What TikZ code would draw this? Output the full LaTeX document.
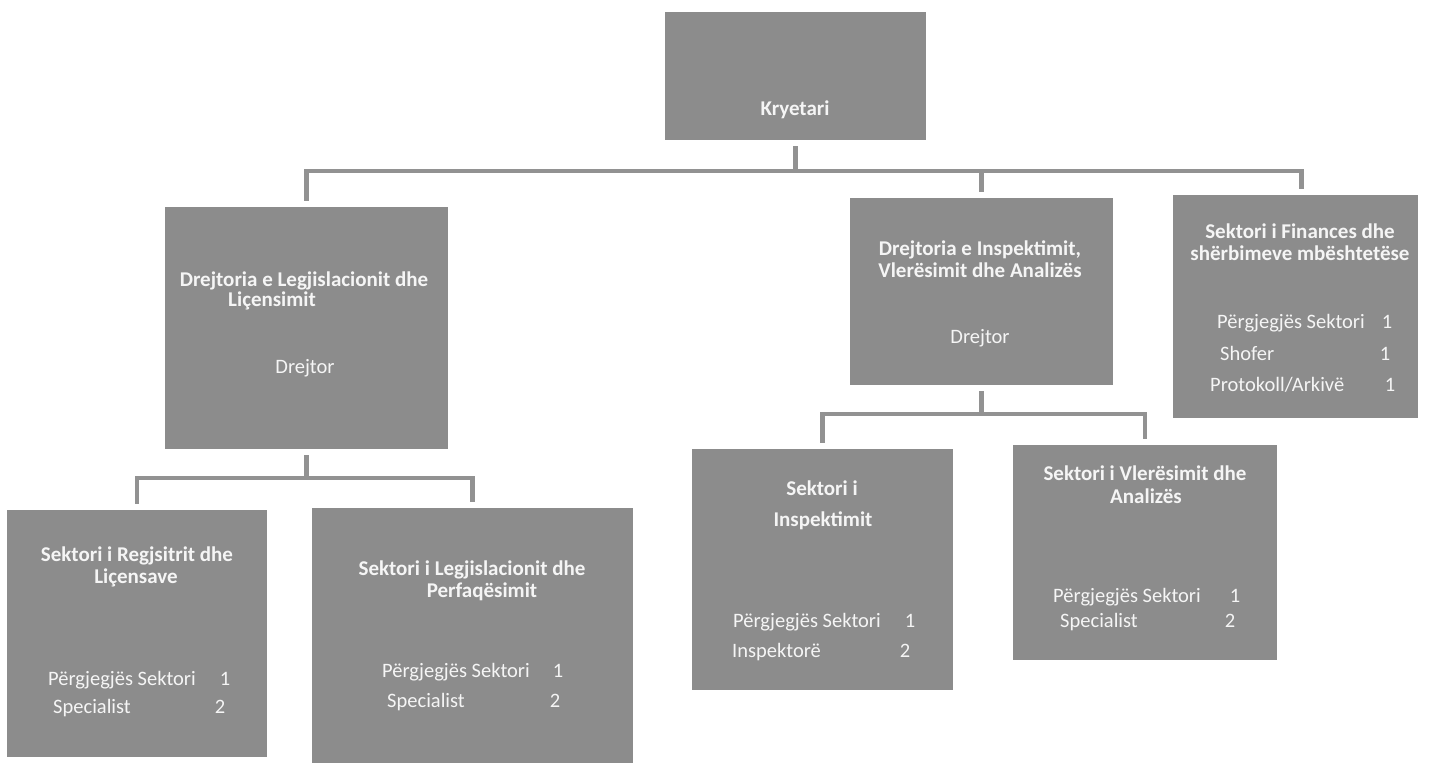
\documentclass[tikz,border=0pt]{standalone}
\usepackage{fontspec}
\setmainfont{Carlito}
\definecolor{boxgray}{HTML}{8C8C8C}
\definecolor{linegray}{HTML}{929292}
\definecolor{txtwhite}{HTML}{F5F5F5}
\begin{document}
\begin{tikzpicture}[x=1pt,y=-1pt,
  orgbox/.style={fill=boxgray, draw=none, inner sep=0pt},
  ttl/.style={text=txtwhite, font=\fontsize{21}{21}\selectfont\bfseries, inner sep=0pt, anchor=base},
  ttlw/.style={text=txtwhite, font=\fontsize{21}{21}\selectfont\bfseries, inner sep=0pt, anchor=base west},
  lbl/.style={text=txtwhite, font=\fontsize{20.5}{20.5}\selectfont, inner sep=0pt, anchor=base west},
  ctr/.style={text=txtwhite, font=\fontsize{20.5}{20.5}\selectfont, inner sep=0pt, anchor=base},
  conn/.style={draw=linegray, line width=4.5pt, shorten <=6pt, shorten >=6pt}
]
\useasboundingbox (0,0) rectangle (1437,766);

% boxes
\node[orgbox, minimum width=261pt, minimum height=128pt] (k)   at (795.5,76) {};
\node[orgbox, minimum width=283pt, minimum height=242pt] (dl)  at (306.5,328) {};
\node[orgbox, minimum width=263pt, minimum height=187pt] (di)  at (981.5,291.5) {};
\node[orgbox, minimum width=245pt, minimum height=223pt] (fin) at (1295.5,306.5) {};
\node[orgbox, minimum width=260pt, minimum height=247pt] (sr)  at (137,633.5) {};
\node[orgbox, minimum width=321pt, minimum height=255pt] (sl)  at (472.5,635.5) {};
\node[orgbox, minimum width=261pt, minimum height=241pt] (si)  at (822.5,569.5) {};
\node[orgbox, minimum width=264pt, minimum height=215pt] (sv)  at (1145,552.5) {};

% connectors
\draw[conn] (k.south) -- ++(0,31) -| (dl.north);
\draw[conn] (k.south) -- ++(0,31) -| (di.north);
\draw[conn] (k.south) -- ++(0,31) -| ([xshift=6pt]fin.north);
\draw[conn] (dl.south) -- ++(0,29) -| (sr.north);
\draw[conn] (dl.south) -- ++(0,29) -| (sl.north);
\draw[conn] (di.south) -- ++(0,29) -| (si.north);
\draw[conn] (di.south) -- ++(0,29) -| (sv.north);

% Kryetari
\node[ttl] (kt) at (795,115) {Kryetari};

% Drejtoria e Legjislacionit
\node[ttl]  (dlt1) at (304,286) {Drejtoria e Legjislacionit dhe};
\node[ttlw] (dlt2) at (228,306) {Liçensimit};
\node[ctr]  (dlt3) at (305,373) {Drejtor};

% Drejtoria e Inspektimit
\node[ttl] (dit1) at (980,255) {Drejtoria e Inspektimit,};
\node[ttl] (dit2) at (980,277) {Vlerësimit dhe Analizës};
\node[ctr] (dit3) at (980,343) {Drejtor};

% Finance
\node[ttl] (ft1) at (1300,238) {Sektori i Finances dhe};
\node[ttl] (ft2) at (1300,260) {shërbimeve mbështetëse};
\node[lbl] (fr1) at (1217,328) {Përgjegjës Sektori};
\node[ctr] (fn1) at (1387,328) {1};
\node[lbl] (fr2) at (1220,360) {Shofer};
\node[ctr] (fn2) at (1385,360) {1};
\node[lbl] (fr3) at (1210,391) {Protokoll/Arkivë};
\node[ctr] (fn3) at (1390,391) {1};

% Sektori i Regjsitrit
\node[ttl] (srt1) at (137,561) {Sektori i Regjsitrit dhe};
\node[ttl] (srt2) at (136,583) {Liçensave};
\node[lbl] (srr1) at (48,685) {Përgjegjës Sektori};
\node[ctr] (srn1) at (225,685) {1};
\node[lbl] (srr2) at (53,713) {Specialist};
\node[ctr] (srn2) at (220,713) {2};

% Sektori i Legjislacionit
\node[ttl] (slt1) at (472,575) {Sektori i Legjislacionit dhe};
\node[ttl] (slt2) at (482,597) {Perfaqësimit};
\node[lbl] (slr1) at (382,677) {Përgjegjës Sektori};
\node[ctr] (sln1) at (558,677) {1};
\node[lbl] (slr2) at (387,707) {Specialist};
\node[ctr] (sln2) at (555,707) {2};

% Sektori i Inspektimit
\node[ttl] (sit1) at (822,495) {Sektori i};
\node[ttl] (sit2) at (823,526) {Inspektimit};
\node[lbl] (sir1) at (733,627) {Përgjegjës Sektori};
\node[ctr] (sin1) at (910,627) {1};
\node[lbl] (sir2) at (732,657) {Inspektorë};
\node[ctr] (sin2) at (905,657) {2};

% Sektori i Vleresimit
\node[ttl] (svt1) at (1145,480) {Sektori i Vlerësimit dhe};
\node[ttl] (svt2) at (1146,503) {Analizës};
\node[lbl] (svr1) at (1053,602) {Përgjegjës Sektori};
\node[ctr] (svn1) at (1235,602) {1};
\node[lbl] (svr2) at (1060,627) {Specialist};
\node[ctr] (svn2) at (1230,627) {2};
\end{tikzpicture}
\end{document}
